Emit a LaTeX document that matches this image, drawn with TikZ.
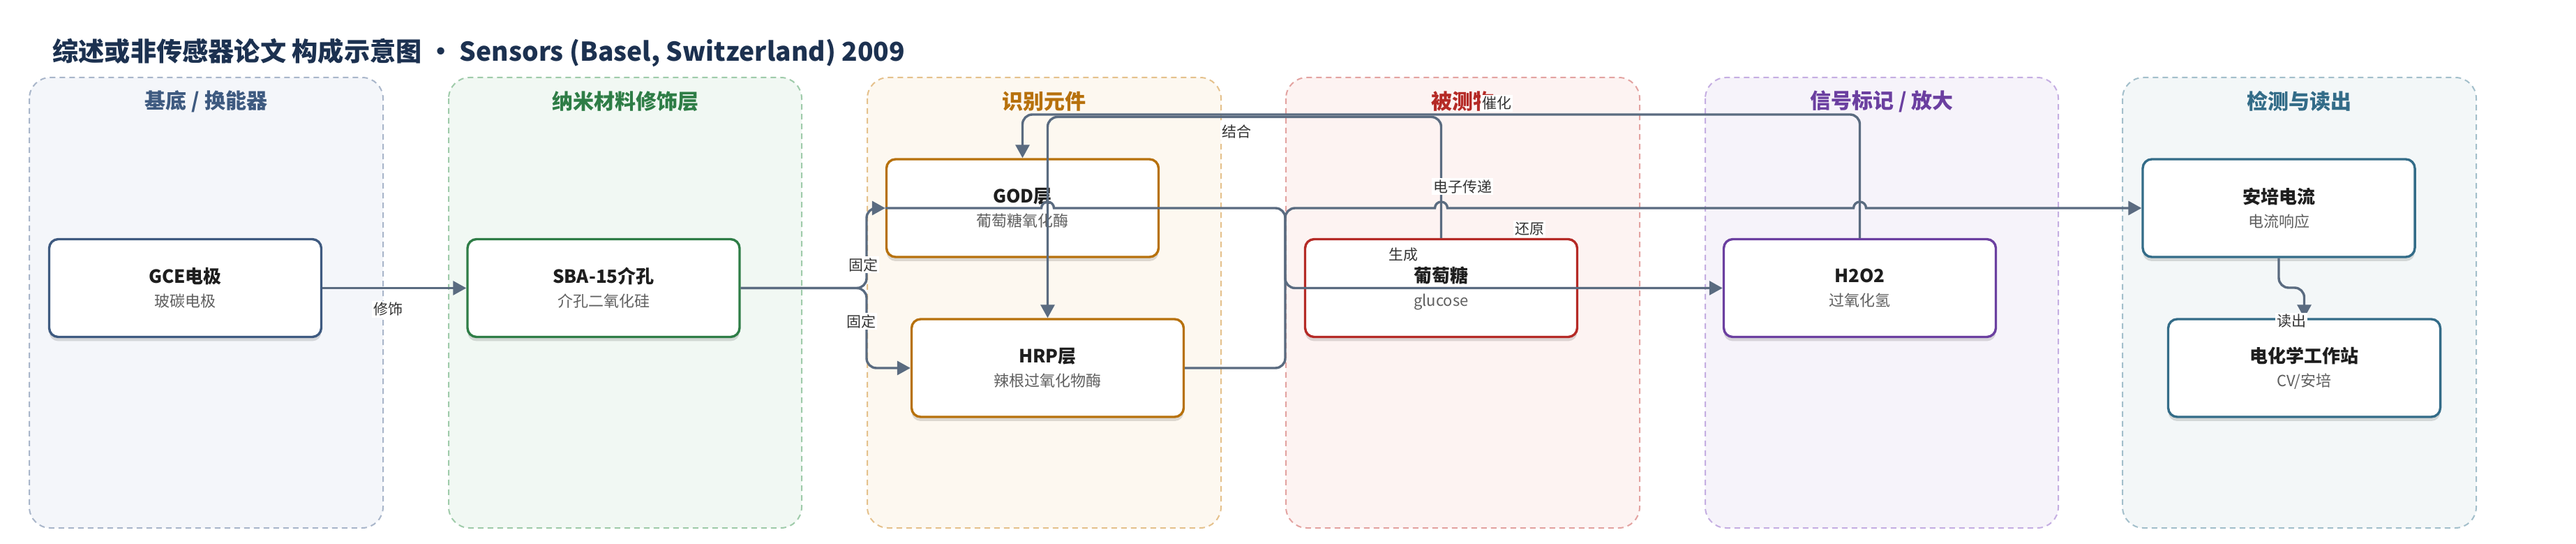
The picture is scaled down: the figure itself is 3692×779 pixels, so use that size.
\documentclass[tikz,border=0pt]{standalone}
\usepackage{fontspec}
\setmainfont{Noto Sans CJK SC}
\usetikzlibrary{arrows.meta,shadows}

\definecolor{inkline}{HTML}{5A6B80}
\definecolor{titleink}{HTML}{1C3150}
\definecolor{nodeink}{HTML}{1E1E1E}
\definecolor{subink}{HTML}{5F5F5F}
\definecolor{tagink}{HTML}{333333}
\definecolor{baseC}{HTML}{3E5A80}\definecolor{baseF}{HTML}{F4F6FA}\definecolor{baseD}{HTML}{A9B6CA}
\definecolor{nanoC}{HTML}{2E7D46}\definecolor{nanoF}{HTML}{F1F8F3}\definecolor{nanoD}{HTML}{9FCBAA}
\definecolor{recoC}{HTML}{B7710C}\definecolor{recoF}{HTML}{FDF8F0}\definecolor{recoD}{HTML}{E5C18C}
\definecolor{anaC}{HTML}{B52A26}\definecolor{anaF}{HTML}{FDF3F2}\definecolor{anaD}{HTML}{E3A3A1}
\definecolor{sigC}{HTML}{6B3FA0}\definecolor{sigF}{HTML}{F6F3FA}\definecolor{sigD}{HTML}{C5AEE2}
\definecolor{detC}{HTML}{336C88}\definecolor{detF}{HTML}{F3F7F8}\definecolor{detD}{HTML}{A3BFCB}

\newcommand{\blocktext}[2]{{\fontsize{13}{17}\selectfont\bfseries\color{nodeink}#1}\\{\color{subink}#2}}

\begin{document}
\begin{tikzpicture}[x=0.5pt, y=-0.5pt,
	lane/.style 2 args={draw=#1, fill=#2, line width=1pt, dash pattern=on 4pt off 3pt, rounded corners=15pt},
	lanetitle/.style={font=\fontsize{15}{18}\selectfont\bfseries, text=#1},
	block/.style={draw=#1, line width=1.7pt, fill=white, rounded corners=6.5pt, minimum width=195pt, minimum height=70pt, align=center, font=\fontsize{11}{17}\selectfont, drop shadow={shadow xshift=0pt, shadow yshift=-3pt, opacity=.13, fill=black}},
	flow/.style={draw=inkline, line width=1.7pt, rounded corners=7pt, -{Triangle[length=9.5pt,width=10pt]}},
	tag/.style={fill=white, inner sep=1pt, text=tagink, font=\fontsize{10.5}{12}\selectfont}]
	\fill[white] (0,0) rectangle (3692,779);
	\useasboundingbox (0,0) rectangle (3692,779);
	\node[anchor=west, inner sep=0pt, font=\fontsize{18.6}{22}\selectfont\bfseries, text=titleink] (title) at (75,76) {综述或非传感器论文 构成示意图 • Sensors (Basel, Switzerland) 2009};
	% lanes
	\path[lane={baseD}{baseF}] (42,111) rectangle (549,756);
	\path[lane={nanoD}{nanoF}] (643,111) rectangle (1149,756);
	\path[lane={recoD}{recoF}] (1243,111) rectangle (1750,756);
	\path[lane={anaD}{anaF}] (1843,111) rectangle (2350,756);
	\path[lane={sigD}{sigF}] (2444,111) rectangle (2950,756);
	\path[lane={detD}{detF}] (3042,111) rectangle (3549,756);
	\node[lanetitle=baseC] (t-base) at (295.5,145) {基底 / 换能器};
	\node[lanetitle=nanoC] (t-nano) at (896,145) {纳米材料修饰层};
	\node[lanetitle=recoC] (t-reco) at (1496.5,145) {识别元件};
	\node[lanetitle=anaC] (t-ana) at (2096.5,145) {被测物};
	\node[lanetitle=sigC] (t-sig) at (2697,145) {信号标记 / 放大};
	\node[lanetitle=detC] (t-det) at (3295.5,145) {检测与读出};
	% blocks
	\node[block=baseC] (gce) at (265.5,412.5) {\blocktext{GCE电极}{玻碳电极}};
	\node[block=nanoC] (sba) at (865,412.5) {\blocktext{SBA-15介孔}{介孔二氧化硅}};
	\node[block=recoC] (god) at (1465.5,298) {\blocktext{GOD层}{葡萄糖氧化酶}};
	\node[block=recoC] (hrp) at (1501.5,527) {\blocktext{HRP层}{辣根过氧化物酶}};
	\node[block=anaC] (glucose) at (2065.5,412.5) {\blocktext{葡萄糖}{glucose}};
	\node[block=sigC] (h2o2) at (2665.5,412.5) {\blocktext{H2O2}{过氧化氢}};
	\node[block=detC] (ampere) at (3266,298) {\blocktext{安培电流}{电流响应}};
	\node[block=detC] (station) at (3302.5,527) {\blocktext{电化学工作站}{CV/安培}};
	\coordinate (fork) at (1242,412.5);
	\coordinate (jx) at (1842,0);
	\coordinate (topA) at (0,164);
	\coordinate (topB) at (0,167.5);
	\coordinate (readY) at (0,412);
	% connectors
	\draw[flow] (gce) -- (sba);
	\draw[flow] (sba.east) -- (fork) |- (god.west);
	\draw[flow] (sba.east) -- (fork) |- (hrp.west);
	\draw[flow] (h2o2.north) -- (h2o2.north |- topA) -- (god.north |- topA) -- (god.north);
	\draw[flow] (glucose.north) -- (glucose.north |- topB) -- (hrp.north |- topB) -- (hrp.north);
	\draw[flow] (god.west) [sharp corners] -- ([xshift=-4.5pt]hrp.north |- god.west) arc[start angle=180, end angle=360, radius=9] [rounded corners=7pt] -- (jx |- god.west) -- (jx |- h2o2.west) -- (h2o2.west);
	\draw[flow] (hrp.east) -- (jx |- hrp.east) -- (jx |- ampere.west) -- ([xshift=-30pt]glucose.north |- ampere.west) [sharp corners] -- ([xshift=-4.5pt]glucose.north |- ampere.west) arc[start angle=180, end angle=360, radius=9] -- ([xshift=-4.5pt]h2o2.north |- ampere.west) arc[start angle=180, end angle=360, radius=9] -- (ampere.west);
	\draw[flow] (ampere.south) -- (ampere.south |- readY) -- (station.north |- readY) -- (station.north);
	% labels
	\node[tag] (l-mod) at (556,443) {修饰};
	\node[tag] (l-fix1) at (1237,379) {固定};
	\node[tag] (l-fix2) at (1234,460) {固定};
	\node[tag] (l-bind) at (1772,188) {结合};
	\node[tag] (l-cat) at (2145,148) {催化};
	\node[tag] (l-elec) at (2096,267) {电子传递};
	\node[tag] (l-red) at (2192,328) {还原};
	\node[tag] (l-gen) at (2011,365) {生成};
	\node[tag] (l-read) at (3284,460) {读出};
\end{tikzpicture}
\end{document}
